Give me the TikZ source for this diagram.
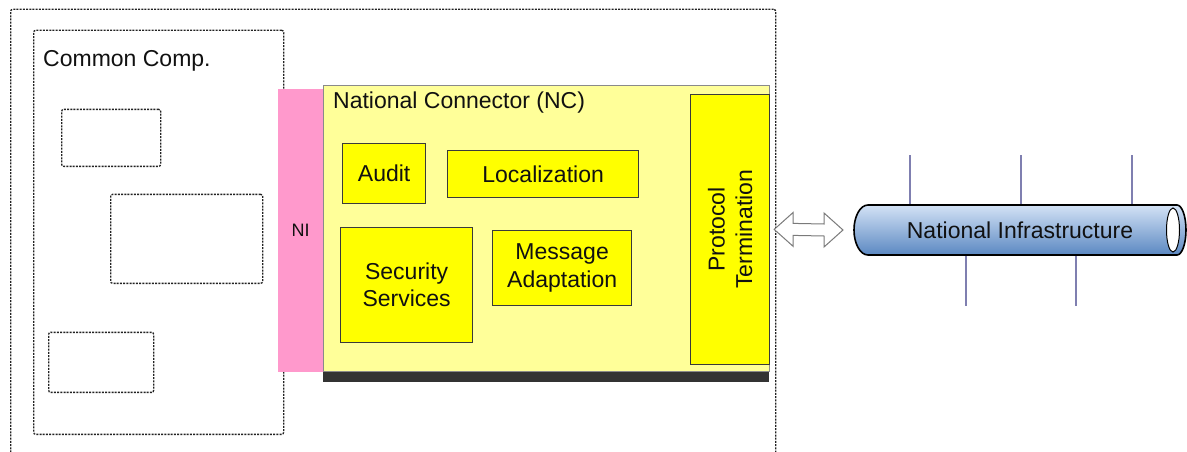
\documentclass[tikz,border=0pt]{standalone}
\usepackage{fontspec}
\setmainfont{Liberation Sans}
\usetikzlibrary{calc}
\definecolor{pinkni}{HTML}{FF99CC}
\definecolor{lightyel}{HTML}{FFFF99}
\definecolor{yel}{HTML}{FFFF00}
\definecolor{bordc}{HTML}{3A3A3A}
\definecolor{ncbord}{HTML}{8A8A8A}
\definecolor{shadowc}{HTML}{333333}
\definecolor{dotc}{HTML}{222222}
\definecolor{txt}{HTML}{111111}
\definecolor{arrowc}{HTML}{7A7A7A}
\definecolor{cyltop}{HTML}{D3E2F5}
\definecolor{cylbot}{HTML}{5B88C2}
\definecolor{linec}{HTML}{7F7FB0}
\begin{document}
\begin{tikzpicture}[x=1pt,y=1pt,
  every node/.style={font=\fontsize{23}{27.5}\selectfont, text=txt},
  dotbox/.style={draw=dotc, line width=1.3pt, dash pattern=on 2pt off 1.2pt, rounded corners=2pt, inner sep=0pt, anchor=south west},
  ybox/.style={draw=bordc, line width=1.3pt, fill=yel, inner sep=0pt, anchor=south west, align=center},
  vline/.style={draw=linec, line width=1.4pt}]
\useasboundingbox (0,0) rectangle (1187,451);
\fill[white] (0,0) rectangle (1187,451);

% outer dotted frame
\node[dotbox, minimum width=765pt, minimum height=451pt] (outer) at (10,-10) {};

% common components
\node[dotbox, minimum width=250pt, minimum height=404pt] (common) at (33,16) {};
\node[anchor=west, inner sep=0pt] (commontitle) at (43,390) {Common Comp.};
\node[dotbox, minimum width=99pt, minimum height=57pt] (c1) at (61,284) {};
\node[dotbox, minimum width=152pt, minimum height=89pt] (c2) at (110,167) {};
\node[dotbox, minimum width=105pt, minimum height=60pt] (c3) at (48,58) {};

% shadow of NC
\fill[shadowc] (323,69) rectangle (769,80);

% NI
\node[fill=pinkni, inner sep=0pt, anchor=south west, minimum width=45pt, minimum height=283pt,
      font=\fontsize{18}{21}\selectfont] (ni) at (278,79) {NI};

% NC
\node[draw=ncbord, line width=1.2pt, fill=lightyel, inner sep=0pt, anchor=south west,
      minimum width=446pt, minimum height=286pt] (nc) at (323,79) {};
\node[anchor=west, inner sep=0pt] (nctitle) at (333,348) {National Connector (NC)};

\node[ybox, minimum width=83pt, minimum height=60pt] (audit) at (342,247) {Audit};
\node[ybox, minimum width=191pt, minimum height=47pt] (local) at (447,253) {Localization};
\node[ybox, minimum width=132pt, minimum height=115pt] (sec) at (340,108) {Security\\Services};
\node[ybox, minimum width=139pt, minimum height=75pt] (msg) at (492,145) {Message\\Adaptation};
\node[ybox, minimum width=79pt, minimum height=270pt] (prot) at (690,86) {};
\node[rotate=90, align=center, inner sep=0pt] (prottext) at (prot.center) {Protocol\\Termination};

% infrastructure bus
\draw[vline] (910,296) -- (910,240);
\draw[vline] (1021,296) -- (1021,240);
\draw[vline] (1132,296) -- (1132,240);
\draw[vline] (966,200) -- (966,145);
\draw[vline] (1076,200) -- (1076,145);

\shade[top color=cyltop, bottom color=cylbot, draw=black, line width=1.6pt]
  (868,246) -- (1177,246) arc[start angle=90, end angle=-90, x radius=9, y radius=25]
  -- (868,196) arc[start angle=270, end angle=90, x radius=14, y radius=25] -- cycle;
\draw[fill=white, line width=1pt] (1173,221) ellipse[x radius=6.5, y radius=22];
\node (infra) at (1020,221) {National Infrastructure};

% double arrow connector
\coordinate (aL) at ($(nc.east)+(4,-1)$);
\coordinate (aR) at (843,221);
\draw[draw=arrowc, fill=white, line width=1pt, line join=miter]
  (aL) -- ++(19,17) -- ++(0,-11) -- ($(aR)+(-19,6)$) -- ++(0,11) -- (aR)
  -- ++(-19,-17) -- ++(0,11) -- ($(aL)+(19,-6)$) -- ++(0,-11) -- cycle;
\end{tikzpicture}
\end{document}
